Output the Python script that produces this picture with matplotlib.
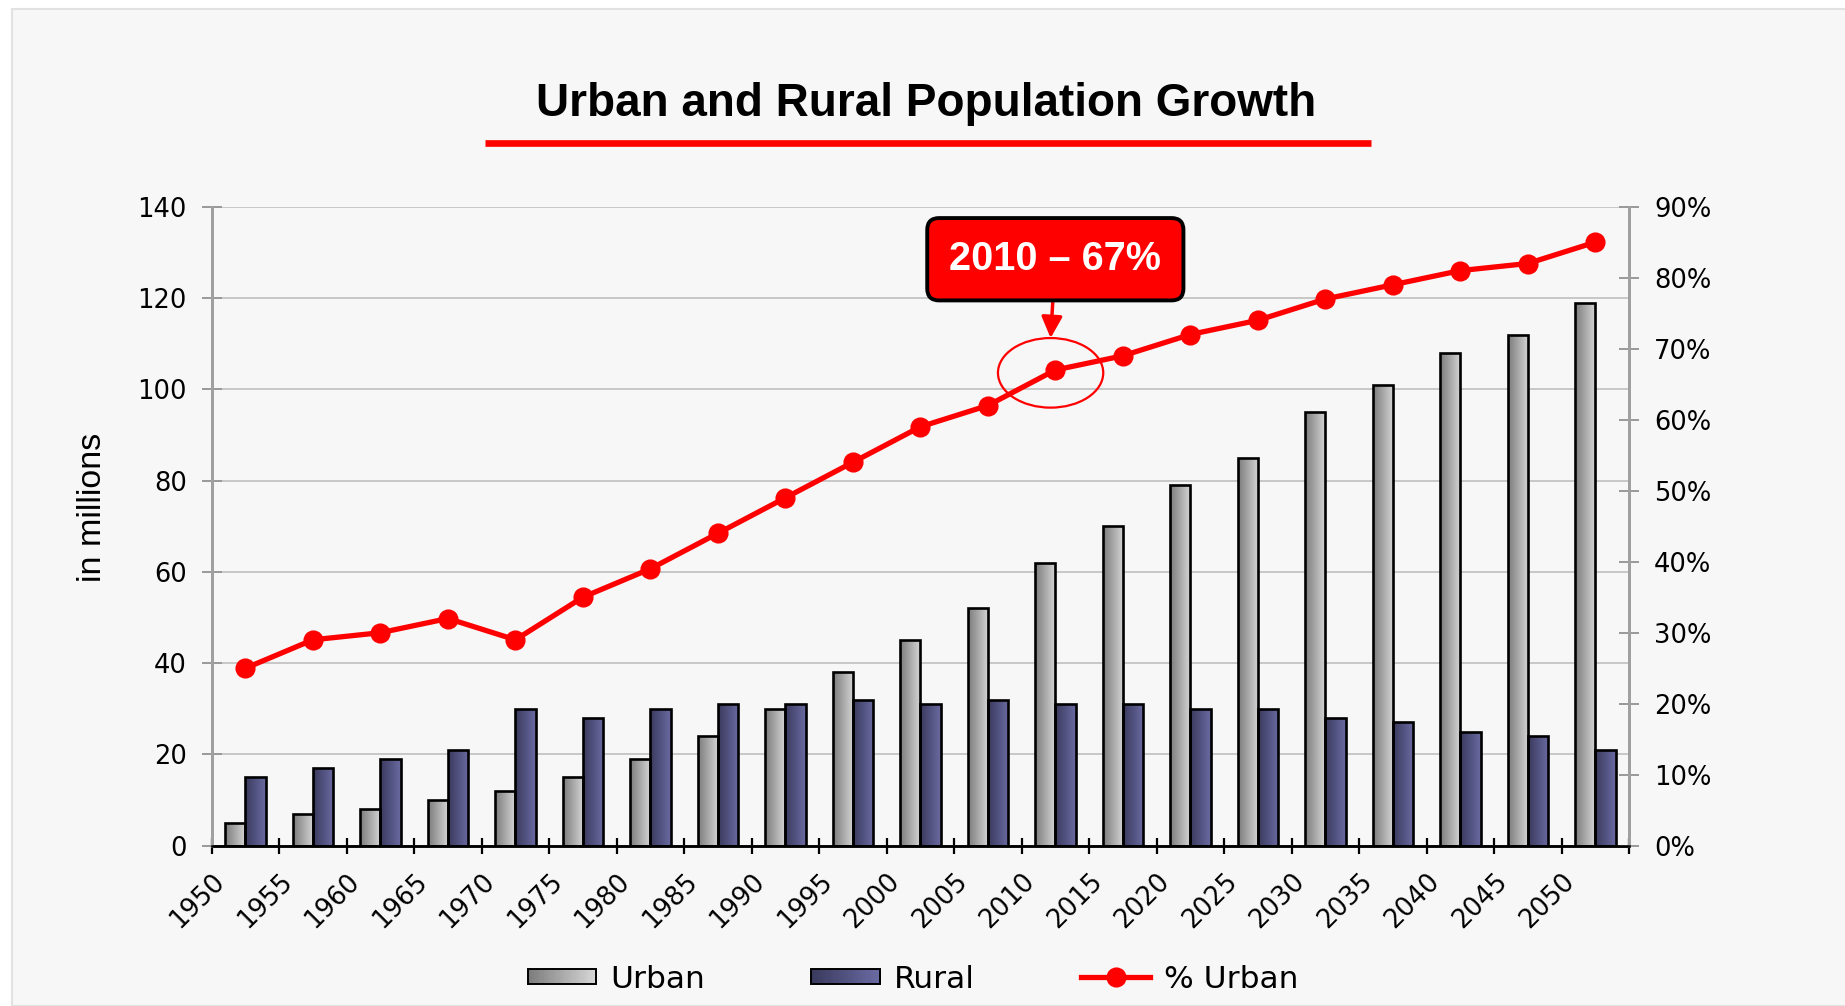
import numpy as np
import matplotlib
matplotlib.use("Agg")
import matplotlib.pyplot as plt
from matplotlib.colors import LinearSegmentedColormap
from matplotlib.patches import Rectangle, Ellipse
from matplotlib.lines import Line2D
from matplotlib.legend_handler import HandlerBase
import matplotlib.transforms as mtransforms

# data
years = ["1950", "1955", "1960", "1965", "1970", "1975", "1980", "1985", "1990", "1995",
         "2000", "2005", "2010", "2015", "2020", "2025", "2030", "2035", "2040", "2045", "2050"]
urban = [5, 7, 8, 10, 12, 15, 19, 24, 30, 38, 45, 52, 62, 70, 79, 85, 95, 101, 108, 112, 119]
rural = [15, 17, 19, 21, 30, 28, 30, 31, 31, 32, 31, 32, 31, 31, 30, 30, 28, 27, 25, 24, 21]
pct_urban = [25, 29, 30, 32, 29, 35, 39, 44, 49, 54, 59, 62, 67, 69, 72, 74, 77, 79, 81, 82, 85]
left_ticks = [0, 20, 40, 60, 80, 100, 120, 140]
right_ticks = [0, 10, 20, 30, 40, 50, 60, 70, 80, 90]
callout_idx = 12  # 2010

BG = "#f7f7f7"
urban_cmap = LinearSegmentedColormap.from_list("urban", ["#7c7c7c", "#d6d6d6"])
rural_cmap = LinearSegmentedColormap.from_list("rural", ["#3a3a5e", "#6a6aa2"])
gradient = np.linspace(0, 1, 64).reshape(1, -1)


class GradientHandler(HandlerBase):
    """Legend box filled with a left-to-right gradient"""
    def __init__(self, cmap):
        super().__init__()
        self.cmap = cmap

    def create_artists(self, legend, orig_handle, xdescent, ydescent, width, height, fontsize, trans):
        n = 30
        h = height * 0.75
        y0 = -ydescent + (height - h) / 2
        arts = []
        for k in range(n):
            arts.append(Rectangle((-xdescent + k * width / n, y0), width / n + 0.3, h,
                                  fc=self.cmap(k / (n - 1)), lw=0, transform=trans))
        arts.append(Rectangle((-xdescent, y0), width, h, fc="none", ec="black", lw=1.4, transform=trans))
        return arts


fig = plt.figure(figsize=(18.45, 10.06), dpi=100)
fig.patch.set_facecolor("white")
fig.add_artist(Rectangle((12 / 1845, 0), 1, 1 - 9 / 1006, transform=fig.transFigure,
                         fc=BG, ec="#e2e2e2", lw=1.5, zorder=-10))

ax = fig.add_axes([211.7 / 1845, 1 - 845.7 / 1006, (1629 - 211.7) / 1845, 639 / 1006])
ax.set_facecolor(BG)
ax2 = ax.twinx()

x = np.arange(len(years))
w = 0.3

# bars with gradient fill clipped to each bar
for vals, offset, cmap in [(urban, -w / 2, urban_cmap), (rural, w / 2, rural_cmap)]:
    bars = ax.bar(x + offset, vals, width=w, facecolor="none", edgecolor="black", linewidth=1.9, zorder=3)
    for b in bars:
        bx, by = b.get_x(), b.get_y()
        bw, bh = b.get_width(), b.get_height()
        im = ax.imshow(gradient, cmap=cmap, extent=[bx, bx + bw, by, by + bh],
                       aspect="auto", zorder=2, interpolation="bicubic")
        im.set_clip_path(b)

ax.set_xlim(-0.5, len(years) - 0.5)
ax.set_ylim(0, 140)
ax.set_yticks(left_ticks)
ax.yaxis.grid(True, color="#c4c4c4", linewidth=1.3)
ax.set_axisbelow(True)

# x ticks on the category boundaries
bounds = np.arange(len(years) + 1) - 0.5
ax.set_xticks(bounds)
ax.set_xticklabels(years + [""], rotation=45, ha="right", va="top", rotation_mode="anchor",
                   fontsize=18.5, family="DejaVu Sans")
offset = mtransforms.ScaledTranslation(0.1, 0, fig.dpi_scale_trans)
for lab in ax.get_xticklabels():
    lab.set_transform(lab.get_transform() + offset)
ax.tick_params(axis="x", direction="inout", length=11, width=1.6, color="black", pad=11)
ax.tick_params(axis="y", direction="inout", length=14, width=1.4, color="#999999", pad=11,
               labelsize=18.5)
for lab in ax.get_yticklabels():
    lab.set_family("DejaVu Sans")

ax.set_ylabel("in millions", fontsize=24.5, family="Liberation Sans")
ax.yaxis.set_label_coords(-0.073, 0.53)

# line on the secondary axis
ax2.plot(x, pct_urban, color="#ff0000", lw=3.8, marker="o", markersize=13.5, zorder=5)
ax2.set_ylim(0, 90)
ax2.set_yticks(right_ticks)
ax2.set_yticklabels([f"{t}%" for t in right_ticks], family="DejaVu Sans", fontsize=18.5)
ax2.tick_params(axis="y", direction="inout", length=14, width=1.4, color="#999999", pad=11)

for a in (ax, ax2):
    a.spines["top"].set_visible(False)
    a.spines["left"].set_color("#a0a0a0")
    a.spines["right"].set_color("#a0a0a0")
    a.spines["left"].set_linewidth(2)
    a.spines["right"].set_linewidth(2)
    a.spines["bottom"].set_color("black")
    a.spines["bottom"].set_linewidth(1.8)

# callout for 2010
cx = x[callout_idx] - 0.07
ax2.add_patch(Ellipse((cx, pct_urban[callout_idx] - 0.4), 1.56, 9.8, fill=False,
                      ec="#ff0000", lw=1.6, zorder=6))
ax2.annotate(f"{years[callout_idx]} \u2013 {pct_urban[callout_idx]}%",
             xy=(cx, pct_urban[callout_idx] + 4.5), xytext=(cx + 0.07, 82.6),
             ha="center", va="center", fontsize=28.5, fontweight="bold", color="white",
             family="Liberation Sans",
             bbox=dict(boxstyle="round,pad=0.56,rounding_size=0.3", fc="#ff0000", ec="black", lw=2.8),
             arrowprops=dict(arrowstyle="-|>,head_length=0.45,head_width=0.22", color="#ff0000",
                             lw=2.5, shrinkA=0, shrinkB=0),
             zorder=7)

# title and underline
fig.text(926 / 1845, 1 - 115.7 / 1006, "Urban and Rural Population Growth", ha="center",
         va="baseline", fontsize=33, fontweight="bold", family="Liberation Sans")
fig.add_artist(Line2D([485 / 1845, 1371 / 1845], [1 - 143 / 1006] * 2, transform=fig.transFigure,
                      color="#ff0000", lw=4.8, solid_capstyle="butt"))

# legend
h_urban = Rectangle((0, 0), 1, 1)
h_rural = Rectangle((0, 0), 1, 1)
h_line = Line2D([], [], color="#ff0000", lw=3.8, marker="o", markersize=13.5)
fig.legend([h_urban, h_rural, h_line], ["Urban", "Rural", "% Urban"],
           handler_map={h_urban: GradientHandler(urban_cmap), h_rural: GradientHandler(rural_cmap)},
           loc="center", bbox_to_anchor=(913 / 1845, 1 - 979 / 1006), ncol=3, frameon=False,
           prop={"family": "DejaVu Sans", "size": 22.5}, handlelength=2.2, handleheight=0.55,
           handletextpad=0.45, columnspacing=3.4)

fig.savefig("out.png", dpi=100, facecolor=fig.get_facecolor())
